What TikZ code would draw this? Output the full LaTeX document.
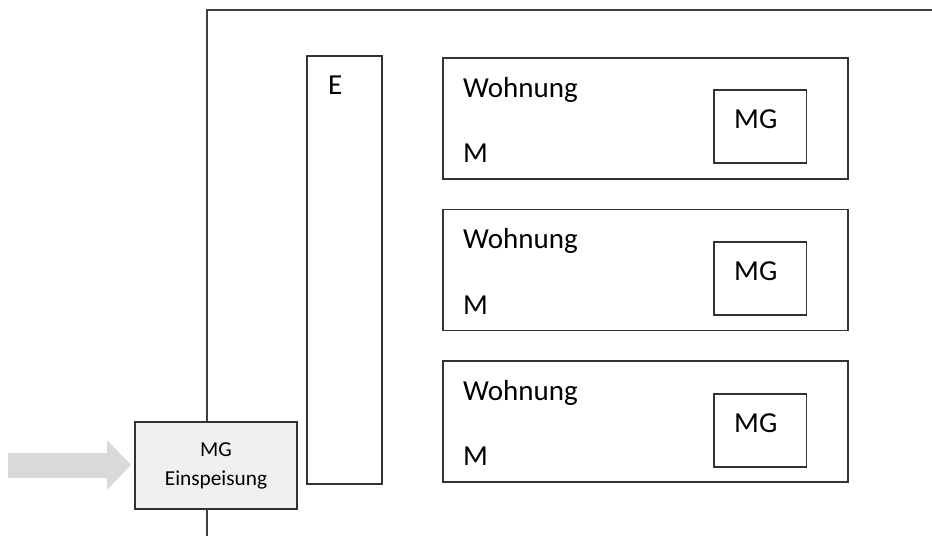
\documentclass[tikz,border=0pt]{standalone}
\usepackage{fontspec}
\setmainfont{Carlito}
\begin{document}
\begin{tikzpicture}[x=1pt,y=-1pt,
  frameline/.style={draw=black!75,line width=1.4pt},
  boxline/.style={draw=black!80,line width=1.1pt},
  bigtext/.style={font=\fontsize{29}{35}\selectfont,inner sep=0pt,anchor=base west},
  feedbox/.style={boxline,fill=black!6,minimum width=162pt,minimum height=87pt,
    align=center,font=\fontsize{21.3}{29}\selectfont,inner sep=0pt},
  feedarrow/.style={fill=black!15,draw=none}]
\useasboundingbox (0,0) rectangle (932,536);

% outer building frame
\coordinate (frameTL) at (207,10);
\coordinate (frameTR) at (932,10);
\coordinate (frameBL) at (207,536);

% feed-in box
\node[feedbox] (feed) at (216,465.5) {MG\\Einspeisung};
\draw[frameline] (frameTR) -- (frameTL) -- (frameTL |- feed.north);
\draw[frameline] (frameTL |- feed.south) -- (frameBL);

% block arrow into the feed-in box
\coordinate (tip) at (131,465);
\fill[feedarrow] (8,453) -- (107,453) -- (107,440) -- (tip) -- (107,490) -- (107,478) -- (8,478) -- cycle;

% riser
\draw[boxline] (307,56) rectangle (382,484);
\node[bigtext] (elabel) at (328,94) {E};

% apartments
\foreach \i/\top/\mgt in {1/58/90, 2/209.5/242, 3/361/394}{
  \draw[boxline] (443,\top) rectangle (848,\top+121);
  \node[bigtext] (w\i) at (463,\top+39) {Wohnung};
  \node[bigtext] (m\i) at (463,\top+104.5) {M};
  \draw[boxline] (714,\mgt) rectangle (806.5,\mgt+73);
  \node[bigtext] (mg\i) at (734,\mgt+38.5) {MG};
}
\end{tikzpicture}
\end{document}
